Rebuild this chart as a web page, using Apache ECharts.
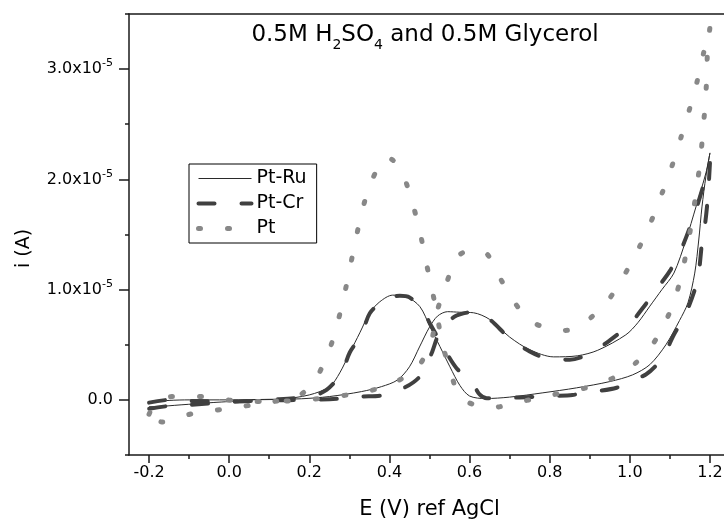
<!DOCTYPE html>
<html>
<head>
<meta charset="utf-8">
<style>
  html, body { margin: 0; padding: 0; background: #fff; }
  #echart-root { width: 724px; height: 519px; }
</style>
<script src="https://cdn.jsdelivr.net/npm/echarts@6/dist/echarts.min.js"></script>
</head>
<body>
<div id="echart-root"></div>
<script>
// E (V vs AgCl), i in units of 1e-5 A
const ptRuForward = [[-0.20,-0.02],[-0.15,-0.005],[-0.10,0.0],[0.00,0.0],[0.10,0.005],[0.18,0.01],[0.25,0.03],[0.33,0.075],[0.38,0.12],[0.42,0.18],[0.45,0.30],[0.475,0.48],[0.50,0.66],[0.52,0.76],[0.545,0.80],[0.575,0.795],[0.61,0.79],[0.65,0.73],[0.70,0.57],[0.75,0.455],[0.81,0.39],[0.87,0.40],[0.92,0.45],[0.99,0.59],[1.02,0.70],[1.05,0.85],[1.08,1.0],[1.11,1.15],[1.14,1.45],[1.165,1.75],[1.19,2.06],[1.20,2.24]];
const ptRuReverse = [[1.19,2.03],[1.18,1.75],[1.172,1.45],[1.162,1.15],[1.145,0.88],[1.124,0.72],[1.09,0.50],[1.05,0.32],[1.007,0.227],[0.95,0.166],[0.867,0.109],[0.783,0.064],[0.70,0.025],[0.64,0.012],[0.60,0.035],[0.576,0.13],[0.551,0.30],[0.526,0.484],[0.501,0.665],[0.476,0.846],[0.443,0.935],[0.408,0.95],[0.376,0.89],[0.351,0.79],[0.326,0.608],[0.301,0.427],[0.276,0.245],[0.251,0.12],[0.20,0.045],[0.127,0.006],[0.05,0.0],[0.0,-0.015],[-0.04,-0.024],[-0.12,-0.045],[-0.185,-0.06],[-0.20,-0.06]];

const ptCrForward = [[-0.20,-0.025],[-0.15,0.0],[-0.10,-0.01],[0.0,-0.015],[0.10,-0.005],[0.20,0.0],[0.27,0.01],[0.33,0.03],[0.38,0.04],[0.434,0.106],[0.46,0.16],[0.48,0.23],[0.505,0.42],[0.525,0.61],[0.56,0.75],[0.58,0.78],[0.615,0.80],[0.65,0.73],[0.70,0.56],[0.75,0.44],[0.80,0.37],[0.85,0.365],[0.90,0.42],[0.95,0.54],[1.00,0.69],[1.04,0.87],[1.07,1.02],[1.10,1.17],[1.13,1.38],[1.16,1.67],[1.18,1.90],[1.20,2.15]];
const ptCrReverse = [[1.195,1.85],[1.188,1.6],[1.18,1.42],[1.169,1.09],[1.142,0.80],[1.124,0.68],[1.107,0.57],[1.092,0.454],[1.067,0.317],[1.04,0.23],[1.007,0.18],[0.967,0.11],[0.907,0.073],[0.857,0.045],[0.807,0.036],[0.758,0.027],[0.693,0.018],[0.643,0.015],[0.625,0.05],[0.608,0.145],[0.567,0.29],[0.538,0.454],[0.517,0.59],[0.50,0.70],[0.484,0.816],[0.45,0.93],[0.426,0.945],[0.40,0.93],[0.384,0.90],[0.351,0.786],[0.33,0.59],[0.301,0.43],[0.28,0.242],[0.243,0.09],[0.20,0.03],[0.10,0.0],[0.0,-0.02],[-0.10,-0.045],[-0.15,-0.055],[-0.20,-0.08]];

const ptForward = [[-0.20,-0.13],[-0.185,-0.04],[-0.143,0.03],[-0.069,0.03],[0.01,-0.006],[0.089,-0.015],[0.164,-0.006],[0.234,0.015],[0.318,0.06],[0.393,0.127],[0.468,0.287],[0.505,0.544],[0.518,0.79],[0.541,1.043],[0.569,1.294],[0.605,1.36],[0.642,1.33],[0.68,1.08],[0.723,0.83],[0.76,0.70],[0.796,0.65],[0.835,0.63],[0.872,0.66],[0.94,0.877],[0.985,1.125],[1.023,1.38],[1.054,1.626],[1.081,1.88],[1.106,2.13],[1.128,2.385],[1.149,2.637],[1.168,2.889],[1.184,3.145],[1.20,3.38]];
const ptReverse = [[1.194,3.18],[1.192,2.93],[1.188,2.68],[1.182,2.42],[1.176,2.17],[1.167,1.93],[1.157,1.67],[1.145,1.42],[1.131,1.164],[1.112,0.913],[1.083,0.665],[1.037,0.408],[0.962,0.206],[0.887,0.106],[0.807,0.045],[0.729,-0.015],[0.655,-0.07],[0.58,0.015],[0.551,0.272],[0.531,0.529],[0.518,0.79],[0.505,1.022],[0.49,1.276],[0.476,1.526],[0.458,1.778],[0.435,2.032],[0.41,2.17],[0.392,2.2],[0.382,2.18],[0.349,1.926],[0.329,1.669],[0.314,1.421],[0.30,1.17],[0.285,0.913],[0.268,0.665],[0.246,0.413],[0.21,0.157],[0.167,0.02],[0.12,-0.01],[0.06,-0.045],[-0.015,-0.084],[-0.094,-0.127],[-0.168,-0.2],[-0.20,-0.13]];

const seriesNames = ["Pt-Ru", "Pt-Cr", "Pt"];
const xMajor = [-0.2, 0.0, 0.2, 0.4, 0.6, 0.8, 1.0, 1.2];
const xMinor = [-0.1, 0.1, 0.3, 0.5, 0.7, 0.9, 1.1];
const yMajor = [0, 1.0e-5, 2.0e-5, 3.0e-5];
const yMinor = [-0.5e-5, 0.5e-5, 1.5e-5, 2.5e-5, 3.5e-5];

const UNIT = 1e-5;
const FONT = "DejaVu Sans";

function toAmps(fwd, rev) {
  return fwd.concat(rev).map(([e, i]) => [e, i * UNIT]);
}

const myChart = echarts.init(document.getElementById("echart-root"));

const xRange = { min: -0.25, max: 1.25 };
const yRange = { min: -0.5e-5, max: 3.5e-5 };
const axisColor = "#1a1a1a";

// line looks, shared by series and legend
const ruLine = { color: "#2a2a2a", width: 1 };
const crLine = { color: "#404040", width: 4, type: [16, 27], cap: "round" };
const ptLine = { color: "#888888", width: 5, type: [2, 27], cap: "round" };

const option = {
  animation: false,
  title: {
    text: "0.5M H{sub|2}SO{sub|4} and 0.5M Glycerol",
    left: 420,
    top: 13,
    textAlign: "center",
    textStyle: {
      fontFamily: FONT,
      fontSize: 23,
      fontWeight: "normal",
      color: "#000",
      rich: {
        sub: { fontFamily: FONT, fontSize: 14, color: "#000", padding: [20, 0, 0, 0] },
      },
    },
  },
  legend: {
    data: [
      { name: seriesNames[0], lineStyle: ruLine },
      { name: seriesNames[1], lineStyle: crLine },
      { name: seriesNames[2], lineStyle: ptLine },
    ],
    orient: "vertical",
    left: 189,
    top: 164,
    itemWidth: 53,
    itemHeight: 14,
    itemGap: 6,
    padding: [5, 10, 5, 7],
    borderColor: "#000",
    borderWidth: 1,
    itemStyle: { color: "transparent", borderWidth: 0, opacity: 0 },
    textStyle: { fontFamily: FONT, fontSize: 19, color: "#000" },
  },
  grid: {
    left: 129,
    right: -6,
    top: 14,
    bottom: 64,
    containLabel: false,
    outerBoundsMode: "none",
  },
  xAxis: [
    {
      type: "value",
      position: "bottom",
      ...xRange,
      name: "E (V) ref AgCl",
      nameLocation: "middle",
      nameGap: 44,
      nameTextStyle: { fontFamily: FONT, fontSize: 21, color: "#000" },
      axisLine: { show: true, onZero: false, lineStyle: { color: axisColor, width: 1.5 } },
      axisTick: { show: true, inside: false, length: 8, customValues: xMajor, lineStyle: { color: axisColor, width: 1.5 } },
      axisLabel: {
        customValues: xMajor,
        margin: 10,
        fontFamily: FONT,
        fontSize: 16,
        color: "#000",
        formatter: (v) => v.toFixed(1),
      },
      splitLine: { show: false },
    },
    {
      // minor ticks
      type: "value",
      position: "bottom",
      ...xRange,
      axisLine: { show: false, onZero: false },
      axisTick: { show: true, inside: false, length: 4, customValues: xMinor, lineStyle: { color: axisColor, width: 1.5 } },
      axisLabel: { show: false },
      splitLine: { show: false },
    },
    {
      // top frame line
      type: "value",
      position: "top",
      ...xRange,
      axisLine: { show: true, onZero: false, lineStyle: { color: axisColor, width: 1.5 } },
      axisTick: { show: false },
      axisLabel: { show: false },
      splitLine: { show: false },
    },
  ],
  yAxis: [
    {
      type: "value",
      position: "left",
      ...yRange,
      name: "i (A)",
      nameLocation: "middle",
      nameGap: 95,
      nameTextStyle: { fontFamily: FONT, fontSize: 19, color: "#000", padding: [0, 28, 0, 0] },
      axisLine: { show: true, onZero: false, lineStyle: { color: axisColor, width: 1.5 } },
      axisTick: { show: true, inside: false, length: 10, customValues: yMajor, lineStyle: { color: axisColor, width: 1.5 } },
      axisLabel: {
        customValues: yMajor,
        margin: 16,
        fontFamily: FONT,
        fontSize: 16,
        color: "#000",
        formatter: (v) => {
          const m = Math.round(v / 1e-6) / 10;
          return m === 0 ? "0.0" : m.toFixed(1) + "x10{sup|-5}";
        },
        rich: {
          sup: { fontFamily: FONT, fontSize: 11, color: "#000", padding: [0, 0, 11, 0] },
        },
      },
      splitLine: { show: false },
    },
    {
      // minor ticks
      type: "value",
      position: "left",
      ...yRange,
      axisLine: { show: false, onZero: false },
      axisTick: { show: true, inside: false, length: 4, customValues: yMinor, lineStyle: { color: axisColor, width: 1.5 } },
      axisLabel: { show: false },
      splitLine: { show: false },
    },
  ],
  series: [
    {
      name: seriesNames[0],
      type: "line",
      data: toAmps(ptRuForward, ptRuReverse),
      symbol: "none",
      smooth: 0.3,
      lineStyle: ruLine,
      itemStyle: { color: ruLine.color },
    },
    {
      name: seriesNames[1],
      type: "line",
      data: toAmps(ptCrForward, ptCrReverse),
      symbol: "none",
      smooth: 0.3,
      lineStyle: crLine,
      itemStyle: { color: crLine.color },
    },
    {
      name: seriesNames[2],
      type: "line",
      data: toAmps(ptForward, ptReverse),
      symbol: "none",
      smooth: 0.3,
      lineStyle: ptLine,
      itemStyle: { color: ptLine.color },
    },
  ],
};

myChart.setOption(option);
</script>
</body>
</html>
